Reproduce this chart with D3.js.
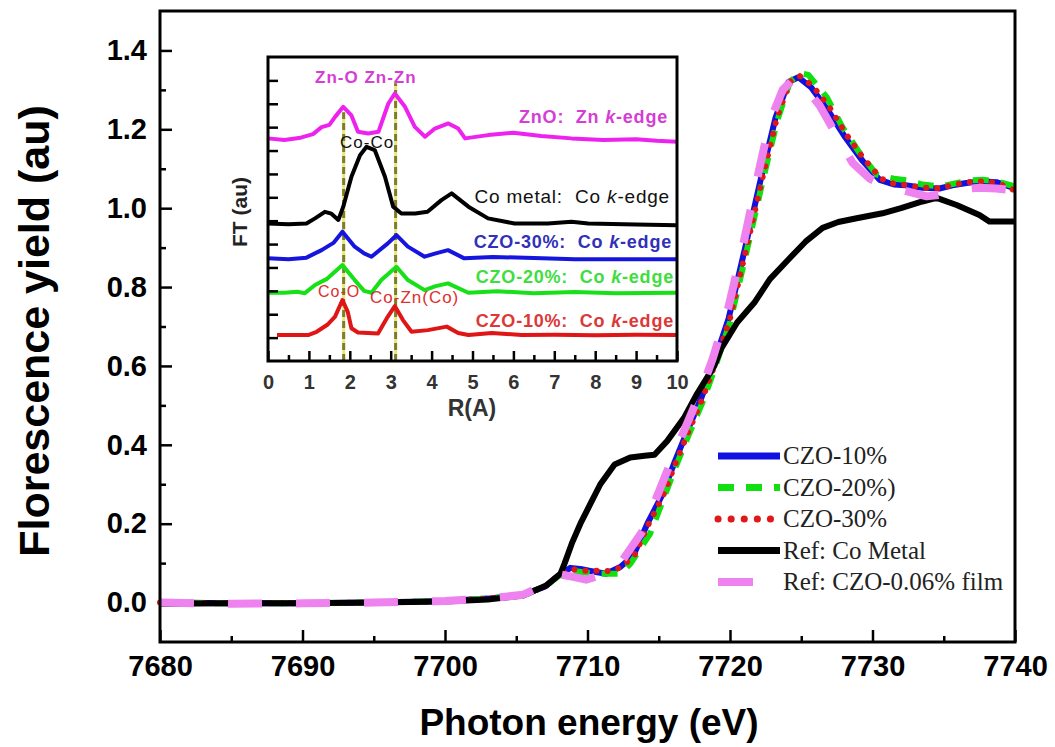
<!DOCTYPE html>
<html>
<head>
<meta charset="utf-8">
<script src="https://cdn.jsdelivr.net/npm/d3@7"></script>
<style>
  body { margin: 0; background: #fff; }
  svg { display: block; font-family: "Liberation Sans", Arial, sans-serif; }
  .pre { white-space: pre; }
</style>
</head>
<body>
<svg id="chart" width="1055" height="747"></svg>
<script>
/* globals d3 */
var energyTicks = [7680, 7690, 7700, 7710, 7720, 7730, 7740];
var yieldTicks = [0, 0.2, 0.4, 0.6, 0.8, 1.0, 1.2, 1.4];
var rTicks = [0, 1, 2, 3, 4, 5, 6, 7, 8, 9, 10];

// XANES, [energy eV, yield]
var czo10 = [[7680,0.0],[7685,-0.002],[7690,-0.002],[7695,0.0],[7700,0.004],[7703,0.01],[7705.5,0.02],[7707,0.04],[7708,0.07],[7708.8,0.088],[7709.5,0.085],[7710.2,0.08],[7711.3,0.073],[7712.3,0.09],[7713.2,0.118],[7714.2,0.2],[7715.2,0.27],[7716.1,0.355],[7717.0,0.435],[7718.0,0.52],[7718.7,0.59],[7719.9,0.72],[7721.0,0.89],[7722.2,1.08],[7723.2,1.23],[7724.1,1.32],[7724.8,1.332],[7725.7,1.306],[7726.9,1.247],[7728.1,1.179],[7729.3,1.12],[7730.5,1.072],[7731.5,1.06],[7732.3,1.058],[7733.5,1.052],[7734.7,1.05],[7735.6,1.058],[7736.6,1.064],[7737.6,1.068],[7738.7,1.066],[7740,1.05]];
var czo20 = [[7680,0.0],[7685,-0.002],[7690,-0.002],[7695,0.0],[7700,0.004],[7703,0.01],[7705.5,0.02],[7707,0.04],[7708,0.068],[7709,0.08],[7710.6,0.073],[7712.3,0.073],[7713.0,0.098],[7714.4,0.175],[7715.3,0.26],[7716.2,0.345],[7717.1,0.425],[7718.1,0.51],[7718.8,0.58],[7720.0,0.71],[7721.1,0.88],[7722.3,1.07],[7723.3,1.22],[7724.2,1.32],[7724.9,1.342],[7725.5,1.338],[7726.8,1.281],[7727.9,1.205],[7729.1,1.14],[7730.3,1.085],[7731.5,1.075],[7732.5,1.07],[7733.5,1.06],[7734.7,1.055],[7735.7,1.062],[7736.7,1.07],[7737.7,1.072],[7738.7,1.068],[7740,1.055]];
var czo30 = [[7680,0.0],[7685,-0.002],[7690,-0.002],[7695,0.0],[7700,0.004],[7703,0.01],[7705.5,0.02],[7707,0.04],[7708,0.07],[7708.8,0.085],[7709.8,0.081],[7711.6,0.08],[7712.4,0.09],[7713.3,0.12],[7714.3,0.2],[7715.3,0.27],[7716.2,0.355],[7717.1,0.435],[7718.1,0.52],[7718.8,0.59],[7720.0,0.72],[7721.1,0.89],[7722.3,1.08],[7723.3,1.23],[7724.2,1.32],[7724.9,1.335],[7725.8,1.31],[7727.0,1.255],[7728.2,1.185],[7729.4,1.125],[7730.6,1.075],[7731.5,1.062],[7732.5,1.058],[7733.5,1.052],[7734.7,1.05],[7735.7,1.06],[7736.7,1.066],[7737.7,1.068],[7738.7,1.065],[7740,1.045]];
var coMetal = [[7680,-0.003],[7685,-0.002],[7690,-0.002],[7695,0.0],[7700,0.003],[7703,0.008],[7705.5,0.018],[7707.1,0.043],[7708.1,0.073],[7708.4,0.1],[7708.9,0.15],[7709.5,0.2],[7710.2,0.25],[7710.9,0.3],[7711.9,0.35],[7713.0,0.368],[7714.0,0.372],[7714.7,0.375],[7715.6,0.41],[7716.8,0.47],[7717.7,0.53],[7718.9,0.6],[7719.4,0.645],[7720.5,0.71],[7721.7,0.76],[7722.8,0.82],[7724.1,0.87],[7725.3,0.915],[7726.5,0.95],[7727.6,0.965],[7728.8,0.974],[7730.7,0.987],[7732.0,1.0],[7733.5,1.017],[7734.5,1.026],[7735.9,1.008],[7737.5,0.983],[7738.2,0.966],[7740,0.966]];
var czoFilm = [[7680,0.0],[7685,-0.003],[7690,-0.002],[7695,0.0],[7700,0.004],[7703,0.01],[7705.5,0.02],[7707,0.045],[7708,0.072],[7709,0.065],[7709.9,0.058],[7711,0.07],[7712.3,0.099],[7713.9,0.183],[7715,0.28],[7716,0.37],[7717,0.455],[7718,0.54],[7718.8,0.62],[7719.9,0.75],[7721,0.92],[7722,1.09],[7722.8,1.22],[7723.7,1.3],[7724.5,1.33],[7725.2,1.31],[7726.3,1.26],[7727.4,1.19],[7728.6,1.115],[7729.8,1.075],[7731,1.055],[7732.2,1.045],[7733.8,1.03],[7735,1.035],[7736.3,1.048],[7737.5,1.052],[7738.7,1.05],[7740,1.045]];

// inset FT, [R (A), offset intensity]
var ftZnO = [[0,9.52],[0.4,9.45],[0.8,9.55],[1.1,9.7],[1.31,10.0],[1.5,10.1],[1.64,10.44],[1.84,10.87],[2.04,10.5],[2.2,9.8],[2.45,9.73],[2.7,9.8],[2.94,11.0],[3.1,11.44],[3.35,10.87],[3.59,10.01],[3.84,9.59],[4.08,9.94],[4.41,10.16],[4.65,9.94],[4.82,9.52],[5.38,9.66],[6.0,9.76],[6.68,9.62],[7.42,9.52],[8.2,9.45],[9.0,9.48],[9.5,9.42],[10,9.38]];
var ftCoMetal = [[0,5.88],[0.5,5.85],[0.94,5.88],[1.15,6.1],[1.39,6.38],[1.55,6.3],[1.72,6.03],[1.84,6.6],[2.04,7.88],[2.25,8.8],[2.41,9.16],[2.61,9.02],[2.86,7.88],[3.06,6.6],[3.26,6.31],[3.6,6.31],[3.9,6.38],[4.24,6.88],[4.49,7.17],[4.9,6.6],[5.38,6.1],[6.03,5.88],[6.84,5.88],[7.42,5.95],[7.83,5.88],[9,5.84],[10,5.81]];
var ftCzo30 = [[0,4.39],[0.5,4.35],[0.94,4.42],[1.31,4.74],[1.6,5.05],[1.82,5.53],[2.12,4.89],[2.35,4.6],[2.53,4.46],[2.93,5.03],[3.14,5.38],[3.42,4.89],[3.83,4.46],[4.1,4.6],[4.4,4.74],[4.8,4.39],[5.5,4.45],[6.5,4.4],[7.5,4.35],[8.5,4.35],[10,4.35]];
var ftCzo20 = [[0,2.92],[0.4,2.92],[0.72,2.96],[0.9,2.9],[1.15,3.25],[1.43,3.5],[1.82,4.1],[2.12,3.46],[2.35,3.0],[2.53,2.92],[2.77,3.46],[3.14,4.03],[3.42,3.46],[3.83,3.03],[4.1,3.2],[4.4,3.32],[4.9,2.92],[5.6,2.98],[6.5,2.9],[7.5,2.95],[8.5,2.9],[10,2.92]];
var ftCzo10 = [[0.22,1.11],[0.98,1.11],[1.19,1.25],[1.45,1.55],[1.64,1.9],[1.82,2.61],[1.95,2.1],[2.04,1.4],[2.2,1.22],[2.69,1.18],[2.93,1.9],[3.1,2.35],[3.3,1.75],[3.51,1.25],[3.91,1.32],[4.37,1.47],[4.65,1.2],[4.9,1.11],[5.47,1.2],[6.2,1.11],[7,1.12],[8,1.1],[9,1.12],[10,1.11]];

var bondLines = [[1.85, 10.64], [3.12, 11.88]];
var legendNames = ["CZO-10%", "CZO-20%)", "CZO-30%", "Ref: Co Metal", "Ref: CZO-0.06% film"];

var svg = d3.select("#chart");

var x = d3.scaleLinear().domain([7680, 7740]).range([160, 1015]);
var y = d3.scaleLinear().domain([-0.1, 1.5]).range([642, 11]);

var line = d3.line()
  .x(d => x(d[0]))
  .y(d => y(d[1]));

var series = [
  { name: legendNames[0], data: czo10, color: "#1010e0", width: 6, dash: null, cap: "butt" },
  { name: legendNames[1], data: czo20, color: "#10e010", width: 6, dash: "16,12", cap: "butt" },
  { name: legendNames[2], data: czo30, color: "#e01818", width: 6, dash: "0.1,11", cap: "round" },
  { name: legendNames[3], data: coMetal, color: "#000", width: 6, dash: null, cap: "butt" },
  { name: legendNames[4], data: czoFilm, color: "#ee82ee", width: 8, dash: "34,34", cap: "butt" }
];

// axes, ticks inward
function styleAxis(g, size) {
  g.select(".domain").remove();
  g.selectAll(".tick line").attr("stroke", "#000").attr("stroke-width", 2.5);
  g.selectAll(".tick text")
    .attr("fill", "#000")
    .style("font-size", size + "px")
    .style("font-weight", "bold");
}

svg.append("g")
  .attr("transform", "translate(0,642)")
  .call(d3.axisBottom(x).tickValues(d3.range(7685, 7740, 10)).tickSize(-6).tickFormat(""))
  .call(g => styleAxis(g, 29));

svg.append("g")
  .attr("transform", "translate(0,642)")
  .call(d3.axisBottom(x).tickValues(energyTicks).tickSize(-12).tickPadding(13).tickFormat(d3.format("d")))
  .call(g => styleAxis(g, 29));

svg.append("g")
  .attr("transform", "translate(160,0)")
  .call(d3.axisLeft(y).tickValues(d3.range(0.1, 1.5, 0.2)).tickSize(-6).tickFormat(""))
  .call(g => styleAxis(g, 29));

svg.append("g")
  .attr("transform", "translate(160,0)")
  .call(d3.axisLeft(y).tickValues(yieldTicks).tickSize(-12).tickPadding(13).tickFormat(d3.format(".1f")))
  .call(g => styleAxis(g, 29));

// curves
series.forEach(function(s) {
  svg.append("path")
    .attr("fill", "none")
    .attr("stroke", s.color)
    .attr("stroke-width", s.width)
    .attr("stroke-linejoin", "round")
    .attr("stroke-linecap", s.cap)
    .attr("stroke-dasharray", s.dash)
    .attr("d", line(s.data));
});

svg.append("rect")
  .attr("x", 160).attr("y", 11)
  .attr("width", 855).attr("height", 631)
  .attr("fill", "none")
  .attr("stroke", "#000")
  .attr("stroke-width", 3);

svg.append("text")
  .attr("x", 589).attr("y", 735)
  .attr("text-anchor", "middle")
  .style("font-size", "37px").style("font-weight", "bold")
  .text("Photon energy (eV)");

svg.append("text")
  .attr("transform", "translate(49,331) rotate(-90)")
  .attr("text-anchor", "middle")
  .style("font-size", "43px").style("font-weight", "bold")
  .text("Florescence yield (au)");

// legend
var legend = svg.append("g").attr("transform", "translate(718,456)");
series.forEach(function(s, i) {
  var row = legend.append("g").attr("transform", "translate(0," + (i * 31.5) + ")");
  row.append("line")
    .attr("x1", 0).attr("x2", i == 4 ? 35 : 62)
    .attr("y1", 0).attr("y2", 0)
    .attr("stroke", s.color)
    .attr("stroke-width", i == 4 ? 8 : 7)
    .attr("stroke-linecap", s.cap)
    .attr("stroke-dasharray", i == 4 ? null : s.dash == "0.1,11" ? "0.1,13" : s.dash);
  row.append("text")
    .attr("x", 65).attr("y", 8)
    .style("font-family", "'Liberation Serif', 'Times New Roman', serif")
    .style("font-size", "25px")
    .attr("fill", "#222")
    .text(s.name);
});

// inset
var rx = d3.scaleLinear().domain([0, 10]).range([268, 677]);
var ry = d3.scaleLinear().domain([0, 13]).range([361, 57]);
var ftLine = d3.line()
  .x(d => rx(d[0]))
  .y(d => ry(d[1]));

var inset = svg.append("g");
inset.append("rect")
  .attr("x", 268).attr("y", 57)
  .attr("width", 409).attr("height", 304)
  .attr("fill", "#fff");

bondLines.forEach(function(b) {
  inset.append("line")
    .attr("x1", rx(b[0])).attr("x2", rx(b[0]))
    .attr("y1", ry(0)).attr("y2", ry(b[1]))
    .attr("stroke", "#e8e87a").attr("stroke-width", 3);
  inset.append("line")
    .attr("x1", rx(b[0])).attr("x2", rx(b[0]))
    .attr("y1", ry(0)).attr("y2", ry(b[1]))
    .attr("stroke", "#7d7d2a").attr("stroke-width", 3)
    .attr("stroke-dasharray", "7,4");
});

var ftSeries = [
  { data: ftZnO, color: "#ee22ee" },
  { data: ftCoMetal, color: "#000" },
  { data: ftCzo30, color: "#1515dd" },
  { data: ftCzo20, color: "#18e018" },
  { data: ftCzo10, color: "#e01515" }
];
ftSeries.forEach(function(s) {
  inset.append("path")
    .attr("fill", "none")
    .attr("stroke", s.color)
    .attr("stroke-width", 4)
    .attr("stroke-linejoin", "round")
    .attr("d", ftLine(s.data));
});

inset.append("g")
  .attr("transform", "translate(0,361)")
  .call(d3.axisBottom(rx).tickValues(d3.range(0.5, 10, 1)).tickSize(-6).tickFormat(""))
  .call(g => styleAxis(g, 20));
inset.append("g")
  .attr("transform", "translate(0,361)")
  .call(d3.axisBottom(rx).tickValues(rTicks).tickSize(-10).tickPadding(14).tickFormat(d3.format("d")))
  .call(g => styleAxis(g, 20))
  .call(g => g.selectAll(".tick text").attr("fill", "#333"));
inset.append("g")
  .attr("transform", "translate(268,0)")
  .call(d3.axisLeft(ry).tickValues(d3.range(1, 13)).tickSize(-10).tickFormat(""))
  .call(g => styleAxis(g, 20));

inset.append("rect")
  .attr("x", 268).attr("y", 57)
  .attr("width", 409).attr("height", 304)
  .attr("fill", "none")
  .attr("stroke", "#000")
  .attr("stroke-width", 3);

inset.append("text")
  .attr("x", 472).attr("y", 416)
  .attr("text-anchor", "middle")
  .attr("fill", "#333")
  .style("font-size", "23px").style("font-weight", "bold")
  .text("R(A)");

inset.append("text")
  .attr("transform", "translate(247,212) rotate(-90)")
  .attr("text-anchor", "middle")
  .attr("fill", "#222")
  .style("font-size", "21px").style("font-weight", "bold")
  .text("FT (au)");

// curve labels, right aligned
var edgeLabels = [
  { pre: "ZnO:  Zn ", x: 668, y: 123, color: "#d53dd5", bold: true },
  { pre: "Co metal:  Co ", x: 670, y: 203, color: "#111", bold: false },
  { pre: "CZO-30%:  Co ", x: 672, y: 248, color: "#3030b8", bold: true },
  { pre: "CZO-20%:  Co ", x: 674, y: 283, color: "#40dd40", bold: true },
  { pre: "CZO-10%:  Co ", x: 674, y: 327, color: "#dd3838", bold: true }
];
edgeLabels.forEach(function(l) {
  var t = inset.append("text")
    .attr("class", "pre")
    .attr("x", l.x).attr("y", l.y)
    .attr("text-anchor", "end")
    .attr("fill", l.color)
    .style("font-size", l.bold ? "18px" : "19px")
    .style("font-weight", l.bold ? "bold" : "normal")
    .style("letter-spacing", "0.8px");
  t.append("tspan").text(l.pre);
  t.append("tspan").style("font-style", "italic").text("k");
  t.append("tspan").text("-edge");
});

var bondLabels = [
  { text: "Zn-O Zn-Zn", x: 315, y: 83, color: "#d53dd5", bold: true, size: 17 },
  { text: "Co-Co", x: 340, y: 148, color: "#111", bold: false, size: 17 },
  { text: "Co-O", x: 318, y: 297, color: "#dd3030", bold: false, size: 16 },
  { text: "Co-Zn(Co)", x: 370, y: 303, color: "#dd3030", bold: false, size: 17 }
];
bondLabels.forEach(function(l) {
  inset.append("text")
    .attr("x", l.x).attr("y", l.y)
    .attr("fill", l.color)
    .style("font-size", l.size + "px")
    .style("font-weight", l.bold ? "bold" : "normal")
    .style("letter-spacing", "1px")
    .text(l.text);
});
</script>
</body>
</html>
